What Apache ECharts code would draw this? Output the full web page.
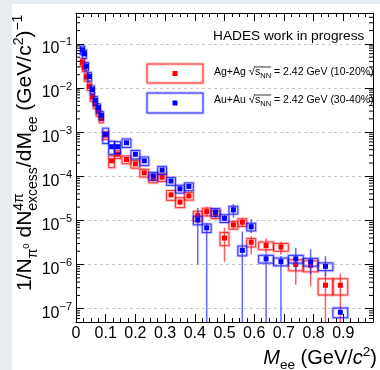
<!DOCTYPE html>
<html><head><meta charset="utf-8">
<script src="https://cdn.jsdelivr.net/npm/echarts@6/dist/echarts.min.js"></script>
<style>
html,body{margin:0;padding:0;background:#e8edf1;width:380px;height:370px;overflow:hidden;}
#panel{position:absolute;left:12px;top:4px;width:368px;height:366px;background:#fff;}
#c{position:absolute;left:0;top:0;width:380px;height:370px;}
</style>
</head><body><div id="panel"></div><div id="c"></div>
<script>
// ---------------- data ----------------
const mass = [0.022,0.028,0.035,0.045,0.055,0.065,0.075,0.085,0.10,0.12,0.14,0.17,0.20,0.23,0.26,0.29,0.32,0.35,0.38,0.41,0.44,0.47,0.50,0.53,0.56,0.59,0.64,0.69,0.74,0.79,0.84,0.89];
const binHalf = [0.007,0.007,0.007,0.007,0.007,0.007,0.007,0.007,0.01,0.01,0.01,0.015,0.015,0.015,0.015,0.015,0.015,0.015,0.015,0.015,0.015,0.015,0.015,0.015,0.015,0.015,0.025,0.025,0.025,0.025,0.025,0.025];

const agY = [0.0385,0.0296,0.0177,0.0109,0.00624,0.00428,0.00286,0.00203,8.5e-4,2.24e-4,3.16e-4,2.40e-4,1.91e-4,1.20e-4,8.9e-5,9.5e-5,3.8e-5,2.6e-5,3.6e-5,1.29e-5,1.58e-5,1.38e-5,4.0e-6,7.9e-6,9.1e-6,3.2e-6,2.7e-6,2.5e-6,1.0e-6,9.5e-7,3.4e-7,3.4e-7];
const agErrLo = [0,0,0,0,0,0,0,0,5e-5,2e-5,2.5e-5,2e-5,1.5e-5,1.2e-5,1.2e-5,1e-5,5e-6,4e-6,4e-6,3e-6,3.5e-6,2.5e-6,2.85e-6,1.5e-6,1.9e-6,1.5e-6,0.9e-6,0.8e-6,0.65e-6,0.63e-6,3.5e-7,3.5e-7];
const agErrHi = [0,0,0,0,0,0,0,0,5e-5,2e-5,2.5e-5,2e-5,1.5e-5,1.2e-5,1.2e-5,1e-5,5e-6,4e-6,4e-6,3e-6,4.5e-6,3e-6,2.8e-6,1.5e-6,2e-6,1.2e-6,1.2e-6,0.8e-6,0.3e-6,0.3e-6,3.1e-7,2.8e-7];
const agSys = [0.2,0.2,0.2,0.2,0.2,0.2,0.2,0.2,0.2,0.3,0.2,0.2,0.2,0.2,0.2,0.2,0.25,0.25,0.2,0.25,0.2,0.2,0.33,0.2,0.2,0.22,0.2,0.2,0.28,0.28,0.4,0.4];

const auY = [0.0733,0.0594,0.0313,0.0183,0.00916,0.00526,0.00360,0.00242,8.9e-4,4.68e-4,4.68e-4,5.75e-4,3.16e-4,2.24e-4,1.02e-4,1.38e-4,7.8e-5,5.2e-5,5.9e-5,1.02e-5,6.8e-6,1.55e-5,1.12e-5,1.74e-5,2.1e-6,7.2e-6,1.35e-6,1.17e-6,1.35e-6,1.15e-6,9.1e-7,8.3e-8];
const auErrLo = [0,0,0,0,0,0,0,0,5e-5,3e-5,3e-5,3.5e-5,2.5e-5,2e-5,1.2e-5,1.4e-5,8e-6,6e-6,6e-6,9.2e-6,7e-6,2e-6,1.5e-6,6e-6,2.2e-6,2e-6,1.4e-6,1.2e-6,0.64e-6,0.56e-6,0.37e-6,0];
const auErrHi = [0,0,0,0,0,0,0,0,5e-5,3e-5,3e-5,3.5e-5,2.5e-5,2e-5,1.2e-5,1.4e-5,8e-6,6e-6,6e-6,8.9e-6,2e-6,2e-6,2e-6,6e-6,3.5e-6,3.5e-6,0.4e-6,0.4e-6,1.05e-6,1.04e-6,0.64e-6,0];
const auSys = [0.22,0.22,0.22,0.22,0.22,0.22,0.22,0.22,0.38,0.33,0.3,0.22,0.22,0.22,0.2,0.2,0.2,0.2,0.2,0.22,0.22,0.2,0.2,0.2,0.25,0.2,0.2,0.2,0.2,0.2,0.2,0.25];

const xTicks = [0,0.1,0.2,0.3,0.4,0.5,0.6,0.7,0.8,0.9,1.0];
const seriesNames = ['Ag+Ag', 'Au+Au'];
// ---------------------------------------------------------------

const FONT = '"Liberation Sans", Arial, Helvetica, sans-serif';
const RED = '#ff0000', BLUE = '#0000ff';
const RED_BOX = 'rgba(255,0,0,0.85)', BLUE_BOX = 'rgba(0,0,255,0.85)';
const RED_HALO = 'rgba(255,60,60,0.3)', BLUE_HALO = 'rgba(60,60,255,0.3)';
const RED_BAR = 'rgba(255,40,40,0.75)', BLUE_BAR = 'rgba(50,50,255,0.75)';

function boxPair(x, y, w, h, col, halo) {
  return [
    {type: 'rect', shape: {x: x, y: y, width: w, height: h}, style: {fill: 'none', stroke: halo, lineWidth: 3}},
    {type: 'rect', shape: {x: x, y: y, width: w, height: h}, style: {fill: 'none', stroke: col, lineWidth: 0.9}}
  ];
}

function makeSeries(name, ys, lo, hi, sys, col, boxCol, haloCol, barCol) {
  const data = mass.map((m, i) => [m, ys[i], lo[i], hi[i], sys[i], binHalf[i]]);
  return {
    type: 'custom', name: name, data: data, clip: true, silent: true,
    renderItem: function (params, api) {
      const x = api.value(0), y = api.value(1), l = api.value(2), h = api.value(3), s = api.value(4), hw = api.value(5);
      const cs = params.coordSys;
      const p = api.coord([x, y]);
      const a = api.coord([x - hw, y * (1 + s)]);
      const b = api.coord([x + hw, y * (1 - s)]);
      const kids = boxPair(a[0], a[1], b[0] - a[0], b[1] - a[1], boxCol, haloCol);
      if (l > 0 || h > 0) {
        const top = api.coord([x, y + h])[1];
        const bot = (y - l > 0) ? api.coord([x, y - l])[1] : cs.y + cs.height;
        kids.push({type: 'line', shape: {x1: p[0], y1: top, x2: p[0], y2: bot},
          style: {stroke: barCol, lineWidth: 1.5}});
      }
      kids.push({type: 'rect', shape: {x: p[0] - 2.5, y: p[1] - 2.5, width: 5, height: 5}, style: {fill: col}});
      return {type: 'group', children: kids};
    }
  };
}

// log minor ticks (2..9 x 10^n) for left & right axes
const yMinorTicks = [];
for (let e = -8; e <= -1; e++) for (let k = 2; k <= 9; k++) {
  const v = k * Math.pow(10, e);
  if (v > 5.01e-8 && v < 0.499) yMinorTicks.push(v);
}
const minorSeries = {
  type: 'custom', silent: true, clip: false, z: 5,
  data: yMinorTicks.map(v => [0, v]),
  renderItem: function (params, api) {
    const cs = params.coordSys;
    const yy = api.coord([0, api.value(1)])[1];
    return {type: 'group', children: [
      {type: 'line', shape: {x1: cs.x, y1: yy, x2: cs.x + 4, y2: yy}, style: {stroke: '#000', lineWidth: 1}},
      {type: 'line', shape: {x1: cs.x + cs.width - 4, y1: yy, x2: cs.x + cs.width, y2: yy}, style: {stroke: '#000', lineWidth: 1}}
    ]};
  }
};

// ---- text helpers (sub/superscripts) ----
const mctx = document.createElement('canvas').getContext('2d');
function fontStr(s, it) { return (it ? 'italic ' : '') + s + 'px ' + FONT; }
function tw(t, s, it) { mctx.font = fontStr(s, it); return mctx.measureText(t).width; }
function textRun(pieces, color) {
  let x = 0; const kids = []; const marks = {};
  pieces.forEach(p => {
    const items = p.stack ? p.stack : [p];
    let w = 0;
    items.forEach(q => {
      kids.push({type: 'text', x: x, y: (q.dy || 0) - 0.35 * q.s,
        style: {text: q.t, font: fontStr(q.s, q.it), fill: color || '#000', align: 'left', verticalAlign: 'middle'}});
      w = Math.max(w, tw(q.t, q.s, q.it));
    });
    if (p.mark) marks[p.mark] = [x, x + w];
    x += w;
  });
  return {kids: kids, width: x, marks: marks};
}

// Y title
const B = 21, S = 14;
const yTitle = textRun([
  {t: '1/N', s: B},
  {stack: [{t: 'π', s: S, dy: 5}]},
  {t: '0', s: 9.5, dy: -3},
  {t: ' dN', s: B},
  {stack: [{t: '4π', s: S, dy: -9}, {t: 'excess', s: S, dy: 5}]},
  {t: '/dM', s: B},
  {t: 'ee', s: S, dy: 5},
  {t: ' (GeV/c', s: B},
  {t: '2', s: S, dy: -9},
  {t: ')', s: B},
  {t: '−1', s: S, dy: -10}
]);
// X title
const XB = 20, XS = 13.5;
const xTitle = textRun([
  {t: 'M', s: XB, it: true},
  {t: 'ee', s: XS, dy: 5},
  {t: ' (GeV/', s: XB},
  {t: 'c', s: XB, it: true},
  {t: '2', s: XS, dy: -8},
  {t: ')', s: XB}
]);

function legendText(label, cent) {
  const r = textRun([
    {t: label + ' ', s: 10.5},
    {t: '√', s: 11.5},
    {t: 's', s: 10.5, mark: 'a'},
    {t: 'NN', s: 7.5, dy: 2.5, mark: 'b'},
    {t: ' = 2.42 GeV (' + cent + ')', s: 10.5}
  ]);
  r.kids.push({type: 'line', shape: {x1: r.marks.a[0], y1: -9, x2: r.marks.b[1], y2: -9}, style: {stroke: '#000', lineWidth: 0.8}});
  return r;
}
const leg1 = legendText(seriesNames[0], '10-20%');
const leg2 = legendText(seriesNames[1], '30-40%');

const graphics = [
  {type: 'group', x: 33, y: 291, rotation: Math.PI / 2, silent: true, children: yTitle.kids},
  {type: 'group', x: 377 - xTitle.width, y: 365, silent: true, children: xTitle.kids},
  {type: 'text', x: 213, y: 41.5 - 0.35 * 13.7, silent: true,
    style: {text: 'HADES work in progress', font: fontStr(13.7), fill: '#000', align: 'left', verticalAlign: 'middle'}},
  {type: 'group', silent: true, children: boxPair(147, 64, 56, 19, RED_BOX, RED_HALO)},
  {type: 'rect', silent: true, shape: {x: 172.5, y: 71, width: 5, height: 5}, style: {fill: RED}},
  {type: 'group', silent: true, children: boxPair(147, 93, 56, 20, BLUE_BOX, BLUE_HALO)},
  {type: 'rect', silent: true, shape: {x: 172.5, y: 100.5, width: 5, height: 5}, style: {fill: BLUE}},
  {type: 'group', x: 214, y: 76, silent: true, children: leg1.kids},
  {type: 'group', x: 214, y: 104, silent: true, children: leg2.kids}
];

const axisLineStyle = {show: true, onZero: false, lineStyle: {color: '#000', width: 1}};
const chart = echarts.init(document.getElementById('c'), null, {renderer: 'canvas'});
chart.setOption({
  backgroundColor: 'transparent',
  animation: false,
  grid: {left: 76, top: 13, right: 7, bottom: 48, containLabel: false},
  xAxis: [
    {type: 'value', min: xTicks[0], max: xTicks[xTicks.length - 1], interval: 0.1, position: 'bottom',
      axisLine: axisLineStyle,
      axisTick: {show: true, inside: true, length: 8, lineStyle: {color: '#000'}},
      minorTick: {show: true, splitNumber: 4, length: 4, lineStyle: {color: '#000'}},
      splitLine: {show: false},
      axisLabel: {color: '#000', fontSize: 16, fontFamily: FONT, margin: 4, showMaxLabel: false,
        formatter: v => (Math.abs(v) < 1e-9 ? '0' : (Math.round(v * 10) / 10).toFixed(1))}},
    {type: 'value', min: xTicks[0], max: xTicks[xTicks.length - 1], interval: 0.1, position: 'top',
      axisLine: axisLineStyle,
      axisTick: {show: true, inside: true, length: 8, lineStyle: {color: '#000'}},
      minorTick: {show: true, splitNumber: 4, length: 4, lineStyle: {color: '#000'}},
      splitLine: {show: false}, axisLabel: {show: false}}
  ],
  yAxis: [
    {type: 'log', logBase: 10, min: 5e-8, max: 0.5, position: 'left',
      axisLine: axisLineStyle,
      axisTick: {show: true, inside: true, length: 8, lineStyle: {color: '#000'}},
      splitLine: {show: true, lineStyle: {color: '#c8c8c8', type: [3, 3], width: 1}},
      axisLabel: {showMinLabel: false, showMaxLabel: false, margin: 4, padding: [6, 0, 0, 0],
        formatter: v => { const e = Math.round(Math.log10(v)); return '{b|10}{s|' + (e < 0 ? '−' + (-e) : e) + '}'; },
        rich: {b: {fontSize: 16, fontFamily: FONT, color: '#000', lineHeight: 20, verticalAlign: 'bottom'},
               s: {fontSize: 11, fontFamily: FONT, color: '#000', lineHeight: 11, verticalAlign: 'top'}}}},
    {type: 'log', logBase: 10, min: 5e-8, max: 0.5, position: 'right',
      axisLine: axisLineStyle,
      axisTick: {show: true, inside: true, length: 8, lineStyle: {color: '#000'}},
      splitLine: {show: false}, axisLabel: {show: false}}
  ],
  series: [
    minorSeries,
    makeSeries(seriesNames[0], agY, agErrLo, agErrHi, agSys, RED, RED_BOX, RED_HALO, RED_BAR),
    makeSeries(seriesNames[1], auY, auErrLo, auErrHi, auSys, BLUE, BLUE_BOX, BLUE_HALO, BLUE_BAR)
  ],
  graphic: graphics
});
</script>
</body></html>
